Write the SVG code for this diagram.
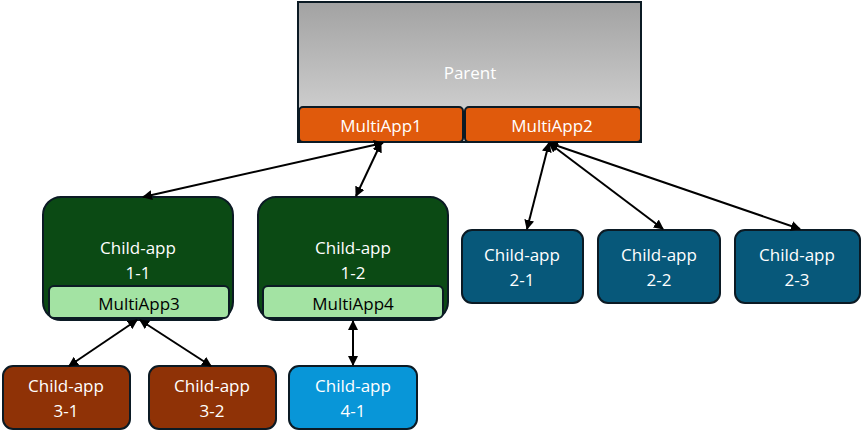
<svg xmlns="http://www.w3.org/2000/svg" width="865" height="434" viewBox="0 0 865 434">
<style>
text{font-family:"Open Sans","Liberation Sans",sans-serif;fill:#fff;text-anchor:middle;font-size:17px}
.b{stroke:#0b1a24;stroke-width:2}
.c{stroke:#000;stroke-width:2;fill:none;marker-start:url(#a);marker-end:url(#a)}
</style>
<defs>
<linearGradient id="g" x1="0" y1="0" x2="0" y2="1"><stop offset="0" stop-color="#a2a2a2"/><stop offset="1" stop-color="#dadada"/></linearGradient>
<marker id="a" viewBox="0 0 10 10" refX="9" refY="5" markerWidth="5" markerHeight="5" orient="auto-start-reverse"><path d="M0,0L10,5L0,10z" fill="#000"/></marker>
</defs>
<g id="parent">
<rect x="298" y="2" width="343" height="140" fill="url(#g)" class="b"/>
<text x="470" y="79" font-size="21">Parent</text>
</g>
<g id="multiapp1"><rect x="299" y="107" width="164" height="35" rx="4" fill="#e05a0c" class="b"/><text x="381" y="132" font-size="20">MultiApp1</text></g>
<g id="multiapp2"><rect x="465" y="107" width="176" height="35" rx="4" fill="#e05a0c" class="b"/><text x="552" y="132" font-size="20">MultiApp2</text></g>
<g id="child11"><rect x="43" y="197" width="190" height="123" rx="18" fill="#0b4a14" class="b"/><text x="138" y="254">Child-app</text><text x="138" y="279">1-1</text>
<rect x="49" y="286" width="180" height="32" rx="5" fill="#a3e3a3" class="b"/><text x="139" y="310" font-size="20" style="fill:#000">MultiApp3</text></g>
<g id="child12"><rect x="258" y="197" width="190" height="123" rx="18" fill="#0b4a14" class="b"/><text x="353" y="254">Child-app</text><text x="353" y="279">1-2</text>
<rect x="263" y="286" width="180" height="32" rx="5" fill="#a3e3a3" class="b"/><text x="353" y="310" font-size="20" style="fill:#000">MultiApp4</text></g>
<g id="child21"><rect x="462" y="230" width="121" height="73" rx="10" fill="#07587a" class="b"/><text x="522" y="261">Child-app</text><text x="522" y="286">2-1</text></g>
<g id="child22"><rect x="598" y="230" width="122" height="73" rx="10" fill="#07587a" class="b"/><text x="659" y="261">Child-app</text><text x="659" y="286">2-2</text></g>
<g id="child23"><rect x="735" y="230" width="125" height="73" rx="10" fill="#07587a" class="b"/><text x="797" y="261">Child-app</text><text x="797" y="286">2-3</text></g>
<g id="child31"><rect x="3" y="366" width="127" height="63" rx="10" fill="#8f3206" class="b"/><text x="66" y="392">Child-app</text><text x="66" y="417">3-1</text></g>
<g id="child32"><rect x="149" y="366" width="127" height="63" rx="10" fill="#8f3206" class="b"/><text x="212" y="392">Child-app</text><text x="212" y="417">3-2</text></g>
<g id="child41"><rect x="289" y="366" width="128" height="63" rx="10" fill="#0896d8" class="b"/><text x="353" y="392">Child-app</text><text x="353" y="417">4-1</text></g>
<g id="connectors">
<line x1="383" y1="143" x2="143" y2="197" class="c"/>
<line x1="381" y1="143" x2="356" y2="196" class="c"/>
<line x1="549" y1="143" x2="527" y2="229" class="c"/>
<line x1="549" y1="143" x2="663" y2="229" class="c"/>
<line x1="549" y1="143" x2="800" y2="229" class="c"/>
<line x1="137" y1="320" x2="69" y2="366" class="c"/>
<line x1="140" y1="320" x2="211" y2="366" class="c"/>
<line x1="353" y1="321" x2="353" y2="365" class="c"/>
</g>
</svg>
